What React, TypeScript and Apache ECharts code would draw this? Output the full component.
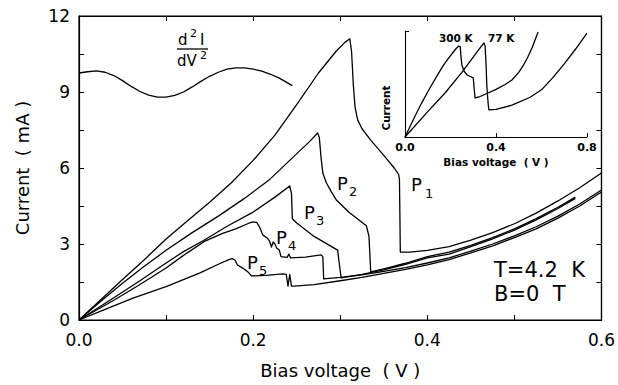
import React, { useEffect, useRef } from "react";
import * as echarts from "echarts";

// Main panel: current (mA) vs bias voltage (V)
const P1: [number, number][] = [
  [0, 0], [0.025, 0.8], [0.05, 1.6], [0.075, 2.38], [0.1, 3.2], [0.125, 3.93], [0.15, 4.65],
  [0.175, 5.42], [0.2, 6.3], [0.225, 7.3], [0.25, 8.5], [0.275, 9.75], [0.295, 10.6], [0.305, 10.95],
  [0.311, 11.1], [0.313, 10.6], [0.315, 9.3], [0.317, 8.4], [0.32, 7.9], [0.325, 7.55], [0.335, 7.1],
  [0.35, 6.5], [0.362, 6.0], [0.367, 5.75], [0.368, 5.55], [0.369, 2.68], [0.38, 2.68], [0.4, 2.75],
  [0.425, 2.9], [0.45, 3.15], [0.475, 3.45], [0.5, 3.8], [0.525, 4.22], [0.55, 4.7], [0.575, 5.22], [0.6, 5.8],
];
const P2: [number, number][] = [
  [0, 0], [0.025, 0.74], [0.05, 1.45], [0.075, 2.12], [0.1, 2.75], [0.13, 3.45], [0.16, 4.1],
  [0.19, 4.8], [0.219, 5.55], [0.245, 6.4], [0.265, 7.05], [0.274, 7.38], [0.276, 7.2], [0.278, 6.4],
  [0.28, 5.8], [0.284, 5.42], [0.29, 5.05], [0.2955, 4.74], [0.31, 4.25], [0.33, 3.72], [0.333, 3.3],
  [0.335, 1.9], [0.35, 2.02], [0.375, 2.24], [0.4, 2.5], [0.425, 2.68], [0.45, 2.95], [0.475, 3.25],
  [0.5, 3.6], [0.525, 4.0], [0.55, 4.45], [0.57, 4.85],
];
const P3: [number, number][] = [
  [0, 0], [0.04, 0.88], [0.07, 1.55], [0.1, 2.25], [0.12, 2.7], [0.144, 3.16], [0.17, 3.7],
  [0.2, 4.26], [0.225, 4.85], [0.242, 5.29], [0.244, 5.0], [0.245, 4.0], [0.25, 3.83], [0.27, 3.3],
  [0.297, 2.76], [0.299, 2.2], [0.301, 1.66], [0.325, 1.8], [0.35, 1.98], [0.375, 2.2], [0.4, 2.45],
  [0.425, 2.6], [0.45, 2.9], [0.475, 3.2], [0.5, 3.55], [0.525, 3.95], [0.55, 4.4], [0.57, 4.8],
];
const P4: [number, number][] = [
  [0, 0], [0.04, 0.78], [0.07, 1.4], [0.1, 2.05], [0.12, 2.55], [0.144, 3.1], [0.165, 3.42],
  [0.18, 3.6], [0.195, 3.82], [0.2, 3.87], [0.204, 3.85], [0.207, 3.7], [0.211, 3.36], [0.216, 3.24],
  [0.219, 3.1], [0.221, 2.88], [0.223, 3.08], [0.225, 3.0], [0.227, 2.84], [0.23, 2.76], [0.232, 2.5],
  [0.239, 2.47], [0.241, 2.6], [0.243, 2.45], [0.26, 2.48], [0.278, 2.57], [0.28, 2.5], [0.281, 1.62],
  [0.3, 1.68], [0.325, 1.78], [0.35, 1.92], [0.375, 2.07], [0.4, 2.25], [0.425, 2.45], [0.45, 2.72],
  [0.475, 3.0], [0.5, 3.32], [0.525, 3.68], [0.55, 4.1], [0.575, 4.58], [0.6, 5.13],
];
const P5: [number, number][] = [
  [0, 0], [0.03, 0.42], [0.062, 0.86], [0.1, 1.32], [0.139, 1.86], [0.16, 2.2], [0.172, 2.38],
  [0.176, 2.42], [0.179, 2.37], [0.182, 2.17], [0.188, 2.05], [0.194, 1.9], [0.198, 1.74],
  [0.215, 1.76], [0.234, 1.82], [0.238, 1.8], [0.24, 1.34], [0.242, 1.8], [0.244, 1.34],
  [0.247, 1.34], [0.27, 1.4], [0.3, 1.55], [0.325, 1.68], [0.35, 1.84], [0.375, 2.0], [0.4, 2.18],
  [0.425, 2.38], [0.45, 2.65], [0.475, 2.93], [0.5, 3.25], [0.525, 3.6], [0.55, 4.02], [0.575, 4.5], [0.6, 5.05],
];
// d2I/dV2 trace drawn in the upper left (plotted in main-axis units)
const D2I: [number, number][] = [
  [0, 9.75], [0.01, 9.8], [0.02, 9.83], [0.03, 9.78], [0.04, 9.65], [0.05, 9.45], [0.06, 9.22],
  [0.07, 9.02], [0.08, 8.88], [0.09, 8.8], [0.1, 8.8], [0.11, 8.87], [0.12, 9.0], [0.13, 9.2],
  [0.14, 9.42], [0.15, 9.62], [0.16, 9.78], [0.17, 9.9], [0.18, 9.95], [0.19, 9.95], [0.2, 9.9],
  [0.21, 9.82], [0.22, 9.7], [0.23, 9.55], [0.245, 9.25],
];
// Inset: current (arb.) vs bias voltage at 300 K and 77 K
const K300: [number, number][] = [
  [0, 0], [0.02, 0.9], [0.04, 1.8], [0.073, 3.2], [0.11, 4.65], [0.147, 6.0], [0.17, 6.8],
  [0.19, 7.4], [0.21, 7.95], [0.225, 8.35], [0.236, 8.58], [0.243, 8.5], [0.246, 7.6], [0.25, 6.8],
  [0.26, 6.2], [0.273, 5.85], [0.3, 5.57], [0.304, 4.6], [0.308, 3.68], [0.33, 3.82], [0.365, 4.15],
  [0.4, 4.5], [0.44, 4.95], [0.47, 5.38], [0.5, 6.1], [0.52, 6.75], [0.54, 7.55], [0.56, 8.5], [0.585, 9.9],
];
const K77: [number, number][] = [
  [0, 0], [0.1, 2.4], [0.176, 4.15], [0.25, 6.1], [0.33, 8.4], [0.347, 8.87], [0.352, 8.6],
  [0.356, 7.0], [0.36, 4.7], [0.366, 3.0], [0.369, 2.55], [0.4, 2.6], [0.47, 3.0], [0.55, 3.75],
  [0.6, 4.45], [0.65, 5.6], [0.7, 6.9], [0.75, 8.3], [0.8, 9.8],
];

const FONT = "DejaVu Sans";

function line(data: [number, number][], xi: number, yi: number) {
  return {
    type: "line",
    data,
    xAxisIndex: xi,
    yAxisIndex: yi,
    showSymbol: false,
    symbol: "none",
    silent: true,
    lineStyle: { color: "#000", width: 1.3, join: "round" },
  };
}

export default function App() {
  const ref = useRef<HTMLDivElement>(null);
  useEffect(() => {
    if (!ref.current) return;
    const chart = echarts.init(ref.current, undefined, { renderer: "svg" });
    const boxAxis = {
      axisLine: { show: true, onZero: false, lineStyle: { color: "#000", width: 1.2 } },
      axisTick: { show: true, inside: true, length: 5, lineStyle: { color: "#000", width: 1 } },
      splitLine: { show: false },
    };
    const txt = (text: string, x: number, y: number, size: number, extra: any = {}) => ({
      type: "text",
      x,
      y,
      silent: true,
      rotation: extra.rotation || 0,
      style: {
        text,
        fill: "#000",
        font: `${extra.weight || "normal"} ${size}px '${FONT}'`,
        align: extra.align || "left",
        verticalAlign: "middle",
      },
    });
    chart.setOption({
      animation: false,
      backgroundColor: "#fff",
      grid: [
        { left: 79, top: 16, width: 524, height: 304, containLabel: false, show: true, borderColor: "#000", borderWidth: 1.2, backgroundColor: "transparent" },
        { left: 405, top: 31, width: 182, height: 106, containLabel: false },
      ],
      xAxis: [
        {
          type: "value", gridIndex: 0, min: 0, max: 0.6, interval: 0.1, position: "bottom",
          ...boxAxis,
          axisLabel: {
            color: "#000", fontFamily: FONT, fontSize: 17, margin: 11,
            formatter: (v: number) => (Math.round(v * 10) % 2 === 0 ? v.toFixed(1) : ""),
          },
          name: "Bias voltage  ( V )", nameLocation: "middle", nameGap: 41,
          nameTextStyle: { color: "#000", fontFamily: FONT, fontSize: 18 },
        },
        {
          type: "value", gridIndex: 0, min: 0, max: 0.6, interval: 0.1, position: "top",
          ...boxAxis, axisLabel: { show: false },
        },
        {
          type: "value", gridIndex: 1, min: 0, max: 0.8, interval: 0.4, position: "bottom",
          axisLine: { show: true, onZero: false, lineStyle: { color: "#000", width: 1.1 } },
          axisTick: { show: true, inside: true, length: 4, lineStyle: { color: "#000" } },
          splitLine: { show: false },
          axisLabel: {
            color: "#000", fontFamily: FONT, fontSize: 11, fontWeight: "bold", margin: 5,
            formatter: (v: number) => v.toFixed(1),
          },
          name: "Bias voltage  ( V )", nameLocation: "middle", nameGap: 19,
          nameTextStyle: { color: "#000", fontFamily: FONT, fontSize: 10.5, fontWeight: "bold" },
        },
      ],
      yAxis: [
        {
          type: "value", gridIndex: 0, min: 0, max: 12, interval: 1.5, position: "left",
          ...boxAxis,
          axisLabel: {
            color: "#000", fontFamily: FONT, fontSize: 17, margin: 9,
            formatter: (v: number) => (Math.round(v * 10) % 30 === 0 ? String(v) : ""),
          },
        },
        {
          type: "value", gridIndex: 0, min: 0, max: 12, interval: 1.5, position: "right",
          ...boxAxis, axisLabel: { show: false },
        },
        {
          type: "value", gridIndex: 1, min: 0, max: 10, interval: 10, position: "left",
          axisLine: { show: true, onZero: false, lineStyle: { color: "#000", width: 1.1 } },
          axisTick: { show: true, inside: true, length: 4, lineStyle: { color: "#000" } },
          splitLine: { show: false },
          axisLabel: { show: false },
        },
      ],
      series: [
        line(P1, 0, 0), line(P2, 0, 0), line(P3, 0, 0), line(P4, 0, 0), line(P5, 0, 0),
        line(D2I, 0, 0), line(K300, 2, 2), line(K77, 2, 2),
        { type: "line", data: [[0, 0]], xAxisIndex: 1, yAxisIndex: 1, silent: true, showSymbol: false, symbol: "none" },
      ],
      graphic: [
        txt("Current  ( mA )", 22, 168, 18, { align: "center", rotation: Math.PI / 2 }),
        txt("Current", 386, 108, 10.5, { align: "center", rotation: Math.PI / 2, weight: "bold" }),
        txt("300 K", 439, 38, 10.5, { weight: "bold" }),
        txt("77 K", 488, 38, 10.5, { weight: "bold" }),
        txt("T=4.2  K", 494, 270, 21),
        txt("B=0  T", 494, 294, 21),
        txt("d", 178, 40, 15), txt("2", 190, 33, 11), txt("I", 200, 40, 15),
        { type: "line", silent: true, shape: { x1: 177, y1: 49, x2: 208, y2: 49 }, style: { stroke: "#000", lineWidth: 1.3 } },
        txt("dV", 177, 61, 15), txt("2", 200, 55, 11),
        txt("P", 411, 184, 18), txt("1", 425, 193, 13),
        txt("P", 337, 183, 18), txt("2", 349, 191, 13),
        txt("P", 304, 212, 18), txt("3", 316, 220, 13),
        txt("P", 276, 237, 18), txt("4", 288, 245, 13),
        txt("P", 247, 262, 18), txt("5", 259, 270, 13),
      ],
    });
    return () => chart.dispose();
  }, []);
  return (
    <div
      ref={ref}
      style={{ position: "fixed", left: 0, top: 0, width: 618, height: 385, background: "#fff" }}
    />
  );
}
